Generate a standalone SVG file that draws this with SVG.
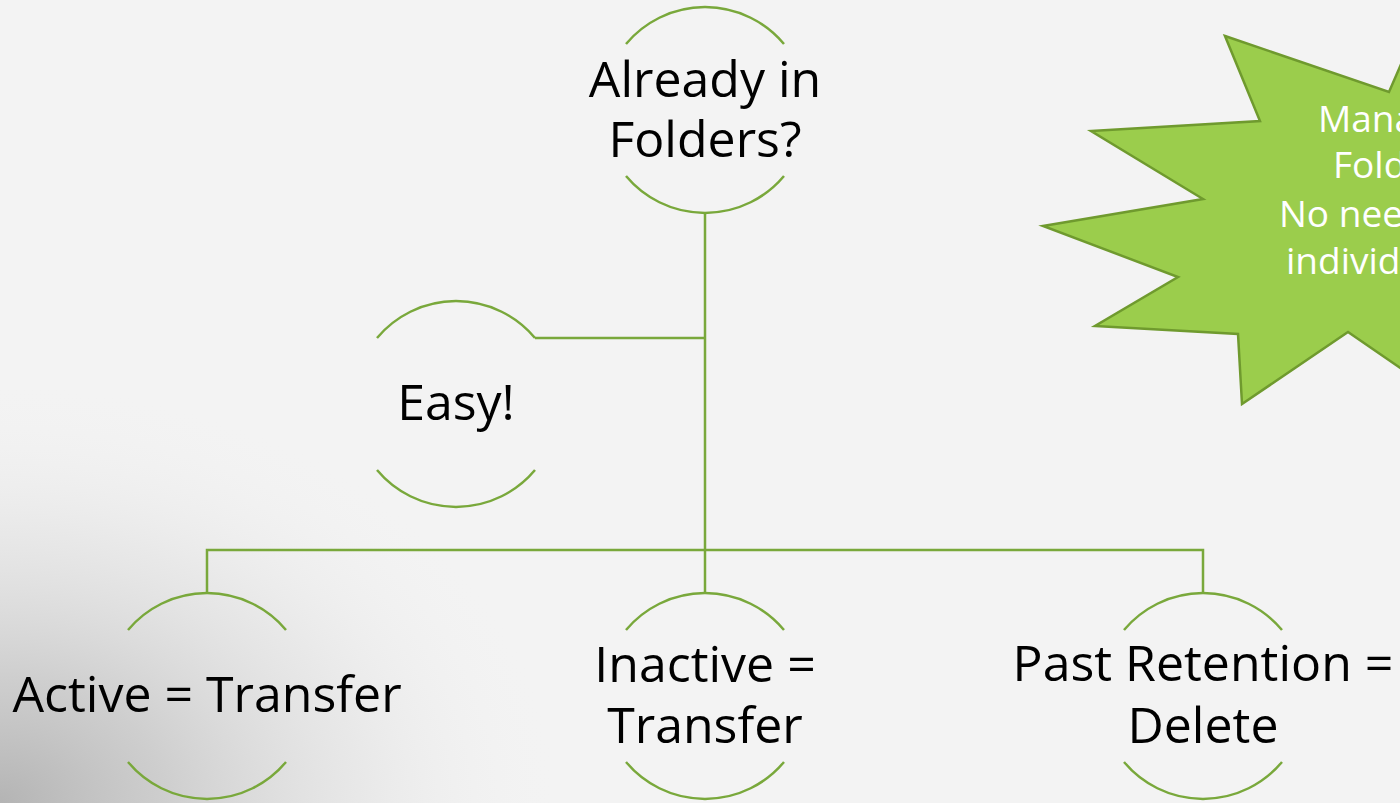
<svg xmlns="http://www.w3.org/2000/svg" width="1400" height="803" viewBox="0 0 1400 803">
  <defs>
    <radialGradient id="cornerShade" gradientUnits="userSpaceOnUse" cx="0" cy="803" r="560" gradientTransform="translate(0 803) scale(1 0.75) translate(0 -803)">
      <stop offset="0" stop-color="#b4b4b4" stop-opacity="1"/>
      <stop offset="0.3" stop-color="#c8c8c8" stop-opacity="0.85"/>
      <stop offset="0.65" stop-color="#dedede" stop-opacity="0.5"/>
      <stop offset="1" stop-color="#f3f3f3" stop-opacity="0"/>
    </radialGradient>
    <style>
      .ring { fill: none; stroke: #79a83b; stroke-width: 2.5; }
      .link { fill: none; stroke: #79a83b; stroke-width: 2.5; }
      .label { font-family: "Open Sans", "Noto Sans", "Liberation Sans", sans-serif; font-size: 50px; fill: #000; text-anchor: middle; }
      .burst { fill: #9bcd4c; stroke: #6f9a2e; stroke-width: 2.5; stroke-linejoin: miter; }
      .burstText { font-family: "Open Sans", "Noto Sans", "Liberation Sans", sans-serif; font-size: 37px; fill: #ffffff; }
    </style>
  </defs>

  <!-- background -->
  <rect x="0" y="0" width="1400" height="803" fill="#f3f3f3"/>
  <rect x="0" y="0" width="1400" height="803" fill="url(#cornerShade)"/>

  <!-- connectors -->
  <g id="connectors">
    <path class="link" d="M705 213 V550"/>
    <path class="link" d="M535 338 H705"/>
    <path class="link" d="M207 592 V550 H1203 V592"/>
    <path class="link" d="M705 550 V592"/>
  </g>

  <!-- decision node -->
  <g id="node-folders">
    <path class="ring" d="M626 44 A103 103 0 0 1 784 44"/>
    <path class="ring" d="M626 176 A103 103 0 0 0 784 176"/>
    <text class="label" x="705" y="97">Already in</text>
    <text class="label" x="705" y="157">Folders?</text>
  </g>

  <g id="node-easy">
    <path class="ring" d="M377 338 A103 103 0 0 1 535 338"/>
    <path class="ring" d="M377 470 A103 103 0 0 0 535 470"/>
    <text class="label" x="456" y="420">Easy!</text>
  </g>

  <g id="node-active">
    <path class="ring" d="M128 630 A103 103 0 0 1 286 630"/>
    <path class="ring" d="M128 762 A103 103 0 0 0 286 762"/>
    <text class="label" x="207" y="712">Active = Transfer</text>
  </g>

  <g id="node-inactive">
    <path class="ring" d="M626 630 A103 103 0 0 1 784 630"/>
    <path class="ring" d="M626 762 A103 103 0 0 0 784 762"/>
    <text class="label" x="705" y="682">Inactive =</text>
    <text class="label" x="705" y="743">Transfer</text>
  </g>

  <g id="node-retention">
    <path class="ring" d="M1124 630 A103 103 0 0 1 1282 630"/>
    <path class="ring" d="M1124 762 A103 103 0 0 0 1282 762"/>
    <text class="label" x="1203" y="681">Past Retention =</text>
    <text class="label" x="1203" y="743">Delete</text>
  </g>

  <!-- callout burst -->
  <g id="callout">
    <polygon class="burst" points="1225,36 1389,92 1416,30 1520,20 1520,420 1418,380 1396,365 1348,332 1242,404 1238,334 1095,326 1178,277 1043,226 1203,199 1091,131 1260,121"/>
    <text class="burstText" x="1318" y="132">Manage</text>
    <text class="burstText" x="1333" y="178">Folders</text>
    <text class="burstText" x="1279" y="227">No need for</text>
    <text class="burstText" x="1286" y="274">individual</text>
  </g>
</svg>
